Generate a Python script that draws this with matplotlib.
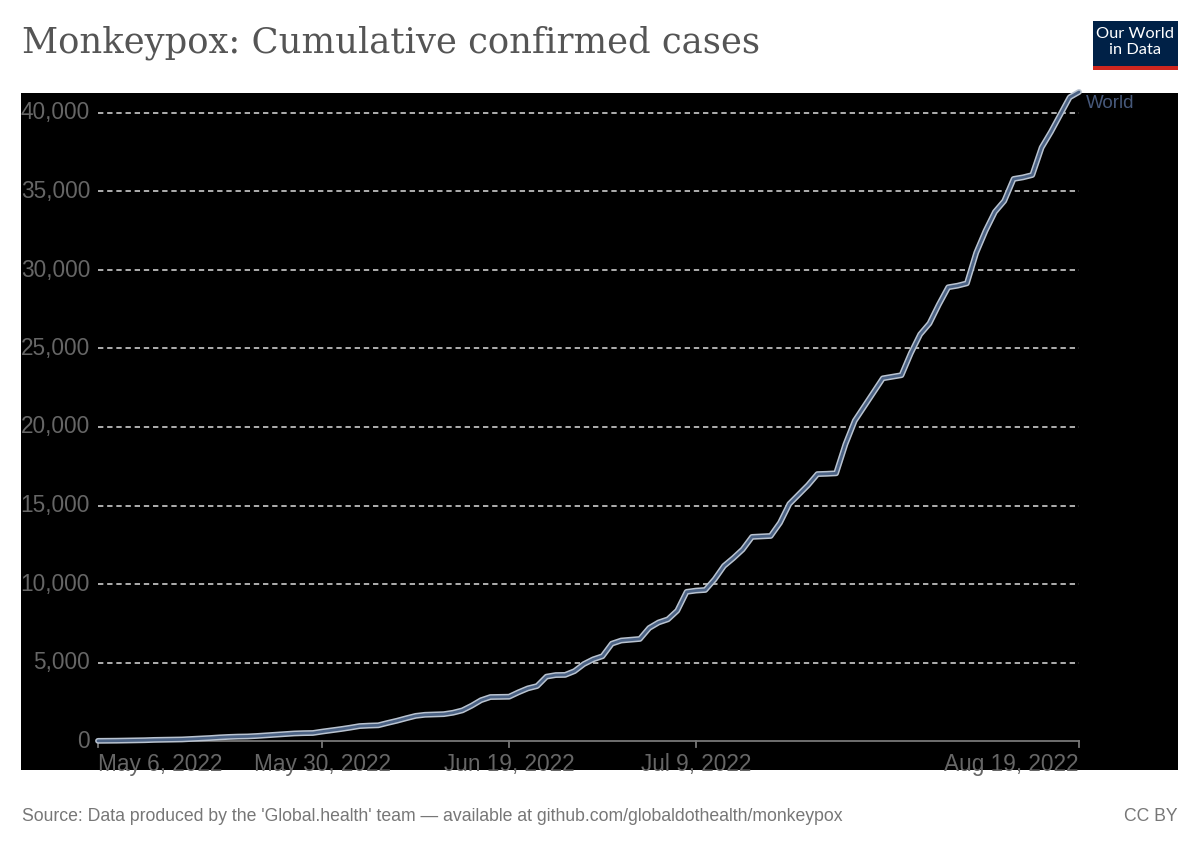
import matplotlib
matplotlib.use("Agg")
import matplotlib.pyplot as plt
import matplotlib.dates as mdates
import pandas as pd
from matplotlib.patches import Rectangle

# ---- data ----
start_date = "2022-05-06"
cases = [10, 15, 20, 30, 40, 50, 70, 80, 90, 100,
         130, 160, 190, 230, 260, 280, 290, 320, 360, 400,
         440, 480, 500, 510, 600, 680, 760, 850, 950, 980,
         1000, 1150, 1290, 1450, 1600, 1670, 1690, 1710, 1800, 1950,
         2250, 2600, 2800, 2810, 2820, 3100, 3350, 3500, 4100, 4200,
         4210, 4450, 4900, 5200, 5400, 6200, 6400, 6450, 6500, 7200,
         7550, 7750, 8300, 9500, 9580, 9620, 10300, 11150, 11650, 12200,
         13000, 13030, 13060, 13900, 15100, 15700, 16300, 17000, 17020, 17050,
         18900, 20400, 21300, 22200, 23100, 23200, 23300, 24700, 25900, 26600,
         27800, 28900, 29000, 29150, 31100, 32500, 33700, 34400, 35800, 35900,
         36050, 37800, 38800, 39900, 41000, 41340]
dates = pd.date_range(start_date, periods=len(cases), freq="D")
y_ticks = [0, 5000, 10000, 15000, 20000, 25000, 30000, 35000, 40000]
x_tick_dates = pd.to_datetime(["2022-05-06", "2022-05-30", "2022-06-19", "2022-07-09", "2022-08-19"])
x_tick_labels = ["May 6, 2022", "May 30, 2022", "Jun 19, 2022", "Jul 9, 2022", "Aug 19, 2022"]
series_name = "World"
title = "Monkeypox: Cumulative confirmed cases"
source = "Source: Data produced by the 'Global.health' team \u2014 available at github.com/globaldothealth/monkeypox"

W, H = 1200, 847
fig = plt.figure(figsize=(W / 100, H / 100), dpi=100)
fig.patch.set_facecolor("white")

# axes = black rectangle region
L, R, T, B = 21, 1178, 93, 770
ax = fig.add_axes([L / W, 1 - B / H, (R - L) / W, (B - T) / H])
ax.set_facecolor("black")
for s in ax.spines.values():
    s.set_visible(False)

# pixel mapping
x0_px, x1_px = 98, 1079
y0_px, y40_px = 741, 113
d0 = mdates.date2num(dates[0])
d1 = mdates.date2num(dates[-1])
ppd = (x1_px - x0_px) / (d1 - d0)
ax.set_xlim(d0 - (x0_px - L) / ppd, d1 + (R - x1_px) / ppd)
ppv = (y0_px - y40_px) / 40000
ax.set_ylim(-(B - y0_px) / ppv, (y0_px - T) / ppv)

ax.set_xticks([])
ax.set_yticks([])

grid_col = "#dddddd"
for v in y_ticks[1:]:
    ax.plot([dates[0], dates[-1]], [v, v], color=grid_col, lw=1.1,
            dashes=(3.5, 2.5), zorder=1)

# x axis line and ticks
axis_col = "#777777"
ax.plot([dates[0], dates[-1]], [0, 0], color=axis_col, lw=1.3, zorder=2)
tick_len = 6 / ppv
for d in x_tick_dates:
    ax.plot([d, d], [0, -tick_len], color=axis_col, lw=1.3, zorder=2, clip_on=False)

# y tick labels
lab_col = "#666666"
for v in y_ticks:
    ax.text(dates[0] - pd.Timedelta(days=0.85), v, f"{v:,}", ha="right", va="center",
            fontsize=16.3, color=lab_col, family="Liberation Sans")

# x tick labels
for i, (d, lab) in enumerate(zip(x_tick_dates, x_tick_labels)):
    ha = "left" if i == 0 else ("right" if i == len(x_tick_labels) - 1 else "center")
    ax.text(d, -12 / ppv, lab, ha=ha, va="top", fontsize=16.3, color=lab_col,
            family="Liberation Sans", clip_on=False)

# series line
ax.plot(dates, cases, color="#b9c3d0", lw=4.2, zorder=3, clip_on=False,
        solid_joinstyle="round", solid_capstyle="round")
ax.plot(dates, cases, color="#4b6284", lw=2.0, zorder=4, clip_on=False,
        solid_joinstyle="round", solid_capstyle="round")
ax.text(dates[-1] + pd.Timedelta(days=0.7), cases[-1] - 12 / ppv, series_name,
        ha="left", va="center", fontsize=13.5, color="#46587a", family="Liberation Sans")

# title
fig.text(22 / W, 1 - 53 / H, title, ha="left", va="baseline", fontsize=25.5,
         color="#555555", family="DejaVu Serif")

# logo
lx0, lx1, ly0, ly1 = 1093, 1178, 21, 70
fig.patches.append(Rectangle((lx0 / W, 1 - ly1 / H), (lx1 - lx0) / W, (ly1 - ly0) / H,
                             transform=fig.transFigure, facecolor="#002147", edgecolor="none"))
fig.patches.append(Rectangle((lx0 / W, 1 - ly1 / H), (lx1 - lx0) / W, 4 / H,
                             transform=fig.transFigure, facecolor="#ce261e", edgecolor="none"))
fig.text((lx0 + lx1) / 2 / W, 1 - 42 / H, "Our World\nin Data", ha="center", va="center",
         fontsize=11.8, color="white", family="Lato", linespacing=1.25)

# footer
fig.text(22 / W, 1 - 816 / H, source, ha="left", va="center", fontsize=12.7,
         color="#777777", family="Liberation Sans")
fig.text(1178 / W, 1 - 816 / H, "CC BY", ha="right", va="center", fontsize=12.7,
         color="#777777", family="Liberation Sans")

fig.savefig("out.png", dpi=100, facecolor="white")
